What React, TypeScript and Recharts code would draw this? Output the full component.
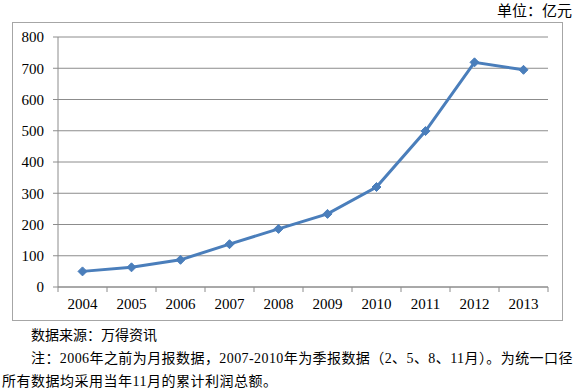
import React from "react";
import { CartesianGrid, Line, LineChart, XAxis, YAxis } from "recharts";

// ─── Data ────────────────────────────────────────────────────
const YEARS = ["2004", "2005", "2006", "2007", "2008", "2009", "2010", "2011", "2012", "2013"];
const PROFIT = [50, 63, 87, 137, 186, 234, 320, 499, 719, 695];
const Y_TICKS = [0, 100, 200, 300, 400, 500, 600, 700, 800];

const UNIT_LABEL = "单位：亿元";
const SOURCE_NOTE = "数据来源：万得资讯";
const NOTE_LINE_1 = "注：2006年之前为月报数据，2007-2010年为季报数据（2、5、8、11月）。为统一口径";
const NOTE_LINE_2 = "所有数据均采用当年11月的累计利润总额。";

const chartData = YEARS.map((year, i) => ({ year, value: PROFIT[i] }));

// ─── Style ───────────────────────────────────────────────────
const FONT = "'Liberation Serif', 'Noto Sans CJK SC', serif";
const LINE_COLOR = "#4A7EBB";
const GRID_COLOR = "#8C8C8C";
const TEXT_COLOR = "#000";
const BAND = 49;

function Diamond({ cx, cy }: { cx?: number; cy?: number }) {
  if (cx == null || cy == null) return null;
  const r = 4.5;
  return (
    <path
      d={`M${cx},${cy - r} L${cx + r},${cy} L${cx},${cy + r} L${cx - r},${cy} Z`}
      fill={LINE_COLOR}
      stroke={LINE_COLOR}
      strokeWidth={1}
    />
  );
}

// category ticks sit between the labels, like Excel
function YearTick(props: any) {
  const { x, y, payload, index } = props;
  const axisY = y - 6;
  return (
    <g>
      <line x1={x - BAND / 2} y1={axisY} x2={x - BAND / 2} y2={axisY + 5} stroke={GRID_COLOR} />
      {index === YEARS.length - 1 && (
        <line x1={x + BAND / 2} y1={axisY} x2={x + BAND / 2} y2={axisY + 5} stroke={GRID_COLOR} />
      )}
      <text x={x} y={axisY + 22} textAnchor="middle" fontSize={15} fill={TEXT_COLOR} fontFamily={FONT}>
        {payload.value}
      </text>
    </g>
  );
}

export default function App() {
  return (
    <div style={{ position: "absolute", left: 0, top: 0, width: 581, height: 388, background: "#fff", fontFamily: FONT, color: TEXT_COLOR }}>
      <div style={{ position: "absolute", left: 497, top: -1, fontSize: 15, whiteSpace: "nowrap" }}>{UNIT_LABEL}</div>
      <div
        style={{
          position: "absolute",
          left: 12,
          top: 22,
          width: 549,
          height: 297,
          border: "1px solid #A6A6A6",
        }}
      >
        <LineChart width={549} height={297} data={chartData} margin={{ top: 14, right: 14, left: 0, bottom: 0 }}>
          <CartesianGrid vertical={false} stroke={GRID_COLOR} strokeWidth={1} />
          <XAxis
            dataKey="year"
            height={33}
            tickLine={false}
            tickSize={0}
            tickMargin={6}
            stroke={GRID_COLOR}
            interval={0}
            padding={{ left: BAND / 2, right: BAND / 2 }}
            tick={<YearTick />}
          />
          <YAxis
            width={45}
            domain={[0, 800]}
            ticks={Y_TICKS}
            interval={0}
            tickSize={5}
            tickMargin={9}
            stroke={GRID_COLOR}
            tick={{ fontSize: 15, fill: TEXT_COLOR, fontFamily: FONT }}
          />
          <Line
            type="linear"
            dataKey="value"
            stroke={LINE_COLOR}
            strokeWidth={3}
            dot={<Diamond />}
            activeDot={false}
            isAnimationActive={false}
          />
        </LineChart>
      </div>
      <div style={{ position: "absolute", left: 31, top: 324, fontSize: 14, whiteSpace: "nowrap" }}>{SOURCE_NOTE}</div>
      <div style={{ position: "absolute", left: 31, top: 347, fontSize: 14, letterSpacing: 0.42, whiteSpace: "nowrap" }}>{NOTE_LINE_1}</div>
      <div style={{ position: "absolute", left: 2, top: 370, fontSize: 14, letterSpacing: 0.5, whiteSpace: "nowrap" }}>{NOTE_LINE_2}</div>
    </div>
  );
}
